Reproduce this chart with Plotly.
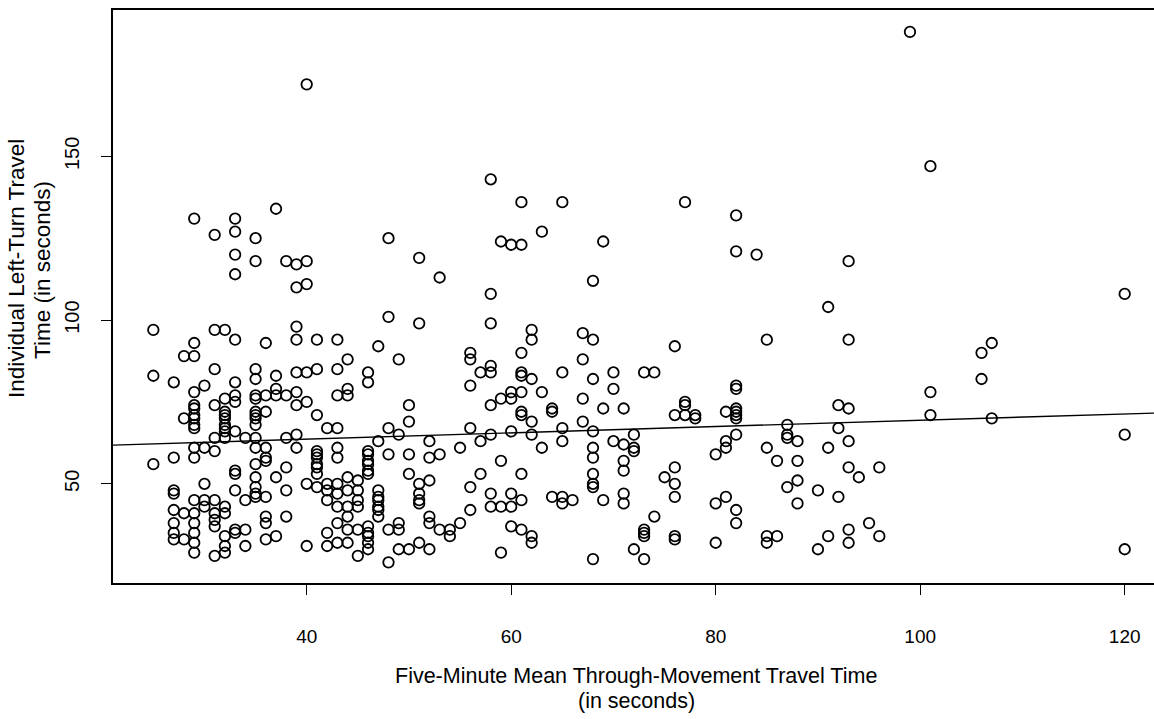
import plotly.graph_objects as go

# Five-minute mean through-movement travel time (s) for each observation
through_time = [
    25, 25, 25,
    27, 27, 27, 27, 27, 27, 27, 27,
    28, 28, 28, 28,
    29, 29, 29, 29, 29, 29, 29, 29, 29, 29, 29, 29, 29, 29, 29, 29, 29, 29,
    30, 30, 30, 30, 30,
    31, 31, 31, 31, 31, 31, 31, 31, 31, 31, 31,
    32, 32, 32, 32, 32, 32, 32, 32, 32, 32, 32, 32, 32, 32,
    33, 33, 33, 33, 33, 33, 33, 33, 33, 33, 33, 33, 33, 33,
    34, 34, 34, 34,
    35, 35, 35, 35, 35, 35, 35, 35, 35, 35, 35, 35, 35, 35, 35, 35, 35,
    36, 36, 36, 36, 36, 36, 36, 36, 36, 36,
    37, 37, 37, 37, 37, 37,
    38, 38, 38, 38, 38, 38,
    39, 39, 39, 39, 39, 39, 39, 39, 39,
    40, 40, 40, 40, 40, 40, 40,
    41, 41, 41, 41, 41, 41, 41, 41, 41, 41,
    42, 42, 42, 42, 42, 42,
    43, 43, 43, 43, 43, 43, 43, 43, 43, 43, 43,
    44, 44, 44, 44, 44, 44, 44, 44, 44,
    45, 45, 45, 45, 45, 45,
    46, 46, 46, 46, 46, 46, 46, 46, 46, 46, 46, 46, 46,
    47, 47, 47, 47, 47, 47, 47, 47,
    48, 48, 48, 48, 48, 48,
    49, 49, 49, 49, 49,
    50, 50, 50, 50, 50,
    51, 51, 51, 51, 51, 51, 51,
    52, 52, 52, 52, 52, 52,
    53, 53, 53,
    54, 54,
    55, 55,
    56, 56, 56, 56, 56, 56,
    57, 57, 57,
    58, 58, 58, 58, 58, 58, 58, 58, 58,
    59, 59, 59, 59, 59,
    60, 60, 60, 60, 60, 60, 60,
    61, 61, 61, 61, 61, 61, 61, 61, 61, 61, 61,
    62, 62, 62, 62, 62, 62, 62,
    63, 63, 63,
    64, 64, 64,
    65, 65, 65, 65, 65, 65,
    66,
    67, 67, 67, 67,
    68, 68, 68, 68, 68, 68, 68, 68, 68, 68,
    69, 69, 69,
    70, 70, 70,
    71, 71, 71, 71, 71, 71,
    72, 72, 72, 72,
    73, 73, 73, 73, 73,
    74, 74,
    75,
    76, 76, 76, 76, 76, 76, 76,
    77, 77, 77, 77,
    78, 78,
    80, 80, 80,
    81, 81, 81, 81,
    82, 82, 82, 82, 82, 82, 82, 82, 82, 82, 82,
    84,
    85, 85, 85, 85,
    86, 86,
    87, 87, 87, 87,
    88, 88, 88, 88,
    90, 90,
    91, 91, 91,
    92, 92, 92,
    93, 93, 93, 93, 93, 93, 93,
    94,
    95,
    96, 96,
    99,
    101, 101, 101,
    106, 106,
    107, 107,
    120, 120, 120,
]

# Individual left-turn travel time (s), same order as through_time
left_turn_time = [
    97, 83, 56,
    81, 58, 48, 47, 42, 38, 35, 33,
    89, 70, 41, 33,
    131, 93, 89, 78, 74, 73, 71, 70, 68, 67, 61, 58, 45, 41, 38, 35, 32, 29,
    80, 61, 50, 45, 43,
    126, 97, 85, 74, 64, 60, 45, 41, 39, 37, 28,
    97, 76, 72, 71, 70, 68, 67, 66, 64, 43, 41, 34, 31, 29,
    131, 127, 120, 114, 94, 81, 77, 75, 66, 54, 53, 48, 36, 35,
    64, 45, 36, 31,
    125, 118, 85, 82, 77, 76, 72, 71, 70, 68, 64, 61, 56, 52, 49, 47, 46,
    93, 77, 72, 61, 58, 57, 46, 40, 38, 33,
    134, 83, 79, 77, 52, 34,
    118, 77, 64, 55, 48, 40,
    117, 110, 98, 94, 84, 78, 74, 65, 61,
    172, 118, 111, 84, 75, 50, 31,
    94, 85, 71, 60, 59, 58, 56, 55, 53, 49,
    67, 50, 48, 45, 35, 31,
    94, 85, 77, 67, 61, 58, 50, 47, 43, 38, 32,
    88, 79, 77, 52, 48, 43, 40, 36, 32,
    51, 48, 45, 43, 36, 28,
    84, 81, 60, 59, 57, 56, 54, 53, 37, 35, 34, 32, 30,
    92, 63, 48, 46, 45, 43, 42, 40,
    125, 101, 67, 59, 36, 26,
    88, 65, 38, 36, 30,
    74, 69, 59, 53, 30,
    119, 99, 50, 47, 45, 44, 32,
    63, 58, 51, 40, 38, 30,
    113, 59, 36,
    36, 34,
    61, 38,
    90, 88, 80, 67, 49, 42,
    84, 63, 53,
    143, 108, 99, 86, 84, 74, 65, 47, 43,
    124, 76, 57, 43, 29,
    123, 78, 76, 66, 47, 43, 37,
    136, 123, 90, 84, 83, 78, 72, 71, 53, 45, 36,
    97, 94, 82, 69, 65, 34, 32,
    127, 78, 61,
    73, 72, 46,
    136, 84, 67, 63, 46, 44,
    45,
    96, 88, 76, 69,
    112, 94, 82, 66, 61, 58, 53, 50, 49, 27,
    124, 73, 45,
    84, 79, 63,
    73, 62, 57, 54, 47, 44,
    65, 61, 60, 30,
    84, 36, 35, 34, 27,
    84, 40,
    52,
    92, 71, 55, 50, 46, 34, 33,
    136, 75, 74, 71,
    71, 70,
    59, 44, 32,
    72, 63, 61, 46,
    132, 121, 80, 79, 73, 72, 71, 70, 65, 42, 38,
    120,
    94, 61, 34, 32,
    57, 34,
    68, 65, 64, 49,
    63, 57, 51, 44,
    48, 30,
    104, 61, 34,
    74, 67, 46,
    118, 94, 73, 63, 55, 36, 32,
    52,
    38,
    55, 34,
    188,
    147, 78, 71,
    90, 82,
    93, 70,
    108, 65, 30,
]

# Fitted regression line
fit_intercept = 59.8
fit_slope = 0.096

x_tick_values = [40, 60, 80, 100, 120]
y_tick_values = [50, 100, 150]

x_title_1 = "Five-Minute Mean Through-Movement Travel Time"
x_title_2 = "(in seconds)"
y_title_1 = "Individual Left-Turn Travel"
y_title_2 = "Time (in seconds)"

assert len(through_time) == len(left_turn_time)

X_RANGE = [21.056, 122.866]
Y_RANGE = [19.7, 194.7]

W, H = 1154, 719
L, R, T, B = 113, 0, 10, 136
plot_w = W - L - R
plot_h = H - T - B

FONT = "Liberation Sans, Arial, Helvetica, sans-serif"


def px_to_paper_x(px):
    return (px - L) / plot_w


def px_to_paper_y(py):
    return (H - B - py) / plot_h


fig = go.Figure()

fig.add_trace(go.Scatter(
    x=through_time,
    y=left_turn_time,
    mode="markers",
    marker=dict(symbol="circle-open", size=10.5, color="black",
                line=dict(width=1.8, color="black")),
    showlegend=False,
    hoverinfo="skip",
))

line_x = X_RANGE
line_y = [fit_intercept + fit_slope * v for v in line_x]
fig.add_trace(go.Scatter(
    x=line_x, y=line_y, mode="lines",
    line=dict(color="black", width=1.4),
    showlegend=False, hoverinfo="skip",
))

fig.update_layout(
    width=W, height=H,
    margin=dict(l=L, r=R, t=T, b=B, pad=0),
    paper_bgcolor="white",
    plot_bgcolor="white",
    font=dict(family=FONT, color="black", size=20),
    xaxis=dict(
        range=X_RANGE, tickvals=x_tick_values, ticktext=[str(v) for v in x_tick_values],
        ticks="outside", ticklen=10, tickwidth=1.3, tickcolor="black",
        showline=True, linecolor="black", linewidth=1.6, mirror=True,
        showgrid=False, zeroline=False, automargin=False,
        tickfont=dict(size=19, family=FONT, color="black"),
        ticklabelstandoff=25,
    ),
    yaxis=dict(
        range=Y_RANGE, tickvals=y_tick_values, ticktext=[str(v) for v in y_tick_values],
        ticks="outside", ticklen=10, tickwidth=1.3, tickcolor="black",
        showline=True, linecolor="black", linewidth=1.6, mirror=False,
        showgrid=False, zeroline=False, tickangle=-90, automargin=False,
        tickfont=dict(size=20, family=FONT, color="black"),
        ticklabelstandoff=14,
    ),
)

x_font = dict(family=FONT, size=21.5, color="black")
y_font = dict(family=FONT, size=22.5, color="black")
fig.add_annotation(text=x_title_1, xref="paper", yref="paper",
                   x=px_to_paper_x(636), y=px_to_paper_y(676),
                   xanchor="center", yanchor="middle", showarrow=False, font=x_font)
fig.add_annotation(text=x_title_2, xref="paper", yref="paper",
                   x=px_to_paper_x(636), y=px_to_paper_y(701),
                   xanchor="center", yanchor="middle", showarrow=False, font=x_font)
fig.add_annotation(text=y_title_1, xref="paper", yref="paper",
                   x=px_to_paper_x(16), y=px_to_paper_y(269),
                   xanchor="center", yanchor="middle", textangle=-90,
                   showarrow=False, font=y_font)
fig.add_annotation(text=y_title_2, xref="paper", yref="paper",
                   x=px_to_paper_x(42), y=px_to_paper_y(270),
                   xanchor="center", yanchor="middle", textangle=-90,
                   showarrow=False, font=y_font)

fig.write_html(
    "out.html",
    config={"displayModeBar": False},
    post_script="document.body.style.margin='0px';document.body.style.overflow='hidden';",
)
